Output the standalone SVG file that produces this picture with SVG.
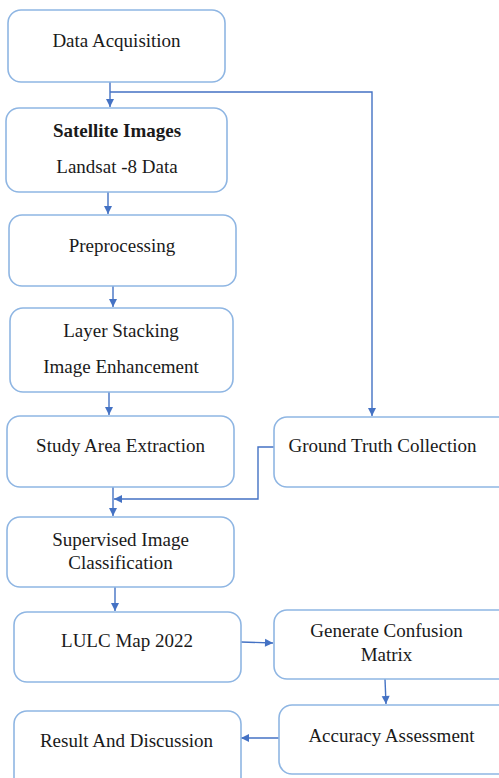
<svg xmlns="http://www.w3.org/2000/svg" width="499" height="778" viewBox="0 0 499 778">
<style>
.box{fill:#fff;stroke:#8fb6e3;stroke-width:1.6}
.t{font-family:"Liberation Serif","Times New Roman",serif;font-size:19px;fill:#1a1a1a;text-anchor:middle}
.b{font-weight:bold}
.c{fill:none;stroke:#4472c4;stroke-width:1.4}
</style>
<defs>
<marker id="ah" markerWidth="10" markerHeight="10" refX="9" refY="5" orient="auto" markerUnits="userSpaceOnUse">
<path d="M1,1 L9,5 L1,9 Z" fill="#4472c4"/>
</marker>
</defs>
<rect width="499" height="778" fill="#fff"/>
<g id="connectors">
<path class="c" d="M110,82 V107" marker-end="url(#ah)"/>
<path class="c" d="M110,92 H372 V416" marker-end="url(#ah)"/>
<path class="c" d="M108,192 V214" marker-end="url(#ah)"/>
<path class="c" d="M113,286 V307" marker-end="url(#ah)"/>
<path class="c" d="M109,392 V415" marker-end="url(#ah)"/>
<path class="c" d="M113,487 V516" marker-end="url(#ah)"/>
<path class="c" d="M274,447 H258 V499 H114" marker-end="url(#ah)"/>
<path class="c" d="M115,587 V611" marker-end="url(#ah)"/>
<path class="c" d="M241,642 L273,643" marker-end="url(#ah)"/>
<path class="c" d="M385,679 L386,704" marker-end="url(#ah)"/>
<path class="c" d="M279,738 H241" marker-end="url(#ah)"/>
</g>
<g id="data-acquisition">
<rect class="box" x="8" y="10" width="217" height="72" rx="13"/>
<text class="t" x="116.5" y="47">Data Acquisition</text>
</g>
<g id="satellite-images">
<rect class="box" x="6" y="108" width="221" height="84" rx="13"/>
<text class="t b" x="117" y="137">Satellite Images</text>
<text class="t" x="117" y="173">Landsat -8 Data</text>
</g>
<g id="preprocessing">
<rect class="box" x="9" y="215" width="227" height="71" rx="13"/>
<text class="t" x="122" y="251.5">Preprocessing</text>
</g>
<g id="layer-stacking">
<rect class="box" x="10" y="308" width="223" height="84" rx="13"/>
<text class="t" x="121" y="336.5">Layer Stacking</text>
<text class="t" x="121" y="373">Image Enhancement</text>
</g>
<g id="study-area">
<rect class="box" x="7" y="416" width="227" height="71" rx="13"/>
<text class="t" x="120.5" y="452">Study Area Extraction</text>
</g>
<g id="ground-truth">
<rect class="box" x="274" y="417" width="240" height="70" rx="13"/>
<text class="t" x="382.5" y="452">Ground Truth Collection</text>
</g>
<g id="supervised">
<rect class="box" x="7" y="517" width="227" height="70" rx="13"/>
<text class="t" x="120.5" y="546">Supervised Image</text>
<text class="t" x="120.5" y="569">Classification</text>
</g>
<g id="lulc-map">
<rect class="box" x="14" y="612" width="227" height="70" rx="13"/>
<text class="t" x="127" y="647">LULC Map 2022</text>
</g>
<g id="confusion-matrix">
<rect class="box" x="274" y="610" width="240" height="69" rx="13"/>
<text class="t" x="386.5" y="637">Generate Confusion</text>
<text class="t" x="386.5" y="661">Matrix</text>
</g>
<g id="accuracy">
<rect class="box" x="279" y="705" width="235" height="69" rx="13"/>
<text class="t" x="391.5" y="742">Accuracy Assessment</text>
</g>
<g id="result">
<rect class="box" x="14" y="711" width="227" height="80" rx="13"/>
<text class="t" x="126.5" y="747">Result And Discussion</text>
</g>
</svg>
